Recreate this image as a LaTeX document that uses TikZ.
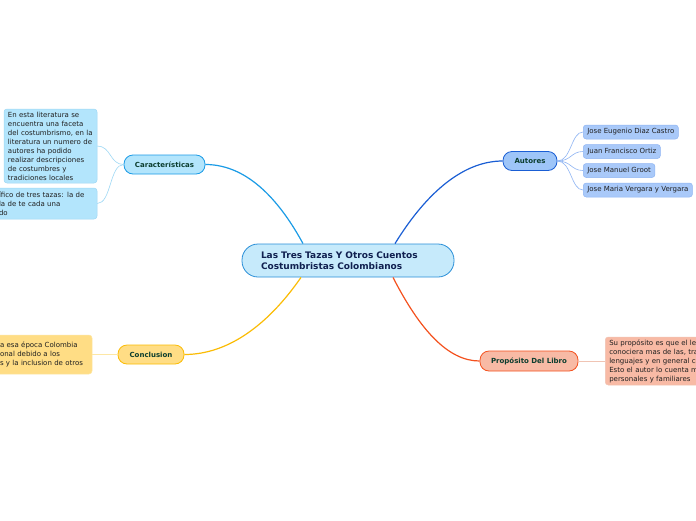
\documentclass[tikz,border=0pt]{standalone}
\usepackage{fontspec}
\setmainfont{DejaVu Sans}
\usepackage{xcolor}
\usetikzlibrary{calc}

\definecolor{titlefill}{HTML}{C6EAFB}
\definecolor{titleline}{HTML}{2A8FD8}
\definecolor{titletext}{HTML}{102050}
\definecolor{labeltext}{HTML}{0B3D2E}
\definecolor{leaftext}{HTML}{202020}
\definecolor{carafill}{HTML}{B3E5FC}
\definecolor{caraline}{HTML}{1A9BE6}
\definecolor{caratwig}{HTML}{9ED8F5}
\definecolor{autfill}{HTML}{9EC5F8}
\definecolor{autline}{HTML}{1A5ED4}
\definecolor{autleaf}{HTML}{A9C9F9}
\definecolor{auttwig}{HTML}{8FB5F3}
\definecolor{propfill}{HTML}{F8BAA5}
\definecolor{propline}{HTML}{F4511E}
\definecolor{proptwig}{HTML}{F0C4B4}
\definecolor{concfill}{HTML}{FFDD85}
\definecolor{concline}{HTML}{FBBC05}
\definecolor{conctwig}{HTML}{FDE7A5}

\begin{document}
\begin{tikzpicture}[x=1pt, y=-1pt,
    topic/.style={draw=titleline, fill=titlefill, line width=0.8pt, rounded corners=16pt,
      minimum width=212pt, minimum height=33pt, inner xsep=19pt, text width=174pt, align=left,
      font=\fontsize{9}{11}\selectfont\bfseries, text=titletext},
    branch/.style={rounded corners=9pt, minimum height=19pt, inner sep=0pt, line width=0.8pt,
      font=\fontsize{7}{9}\selectfont\bfseries, text=labeltext},
    leaf/.style={rounded corners=3pt, line width=0.5pt, inner xsep=4pt, inner ysep=1.5pt,
      font=\fontsize{7}{9}\selectfont, text=leaftext, align=left},
    link/.style={line width=1.2pt},
    twig/.style={line width=0.6pt}]
    \useasboundingbox (0,0) rectangle (696,520);
    \fill[white] (0,0) rectangle (696,520);
    \clip (0,0) rectangle (696,520);

    % Central topic
    \node[topic] (title) at (348,260.5) {Las Tres Tazas Y Otros Cuentos\\Costumbristas Colombianos};

    % Caracteristicas
    \node[branch, draw=caraline, fill=carafill, minimum width=81pt] (cara) at (164.5,164.5) {Características};
    \node[leaf, draw=caratwig, fill=carafill, text width=85pt, minimum height=74pt] (caraA) at (50.5,146)
      {En esta literatura se\\encuentra una faceta\\del costumbrismo, en la\\literatura un numero de\\autores ha podido\\realizar descripciones\\de costumbres y\\tradiciones locales};
    \node[leaf, draw=caratwig, fill=carafill, text width=94pt, minimum height=31pt] (caraB) at (46,203.5)
      {ífico de tres tazas: la de\\la de te cada una\\do};
    \draw[link, caraline] ($(title.north)+(-45,0)$) .. controls (282,205) and (250,164.5) .. (cara.east);
    \draw[twig, caratwig] (cara.west) .. controls +(-14,0) and +(14,0) .. (caraA.east);
    \draw[twig, caratwig] (cara.west) .. controls +(-14,0) and +(14,0) .. (caraB.east);

    % Autores
    \node[branch, draw=autline, fill=autfill, minimum width=54pt] (aut) at (530,161) {Autores};
    \node[leaf, draw=auttwig, fill=autleaf, anchor=west, minimum height=14pt, inner ysep=0pt] (autA) at (583,132) {Jose Eugenio Diaz Castro};
    \node[leaf, draw=auttwig, fill=autleaf, anchor=west, minimum height=14pt, inner ysep=0pt] (autB) at (583,151.5) {Juan Francisco Ortiz};
    \node[leaf, draw=auttwig, fill=autleaf, anchor=west, minimum height=14pt, inner ysep=0pt] (autC) at (583,170.5) {Jose Manuel Groot};
    \node[leaf, draw=auttwig, fill=autleaf, anchor=west, minimum height=14pt, inner ysep=0pt] (autD) at (583,190) {Jose Maria Vergara y Vergara};
    \draw[link, autline] ($(title.north)+(47,0)$) .. controls (428,190) and (465,161) .. (aut.west);
    \foreach \leafname in {autA,autB,autC,autD}
      \draw[twig, auttwig] (aut.east) .. controls +(14,0) and +(-12,0) .. (\leafname.west);

    % Proposito del libro
    \node[branch, draw=propline, fill=propfill, minimum width=98pt, minimum height=20pt] (prop) at (529,361) {Propósito Del Libro};
    \node[leaf, draw=proptwig, fill=propfill, anchor=west, text width=140pt, minimum height=48pt] (propA) at (605,361)
      {Su propósito es que el lector\\conociera mas de las, tradiciones,\\lenguajes y en general costumbres\\Esto el autor lo cuenta mediante\\personales y familiares};
    \draw[link, propline] ($(title.south)+(45,0)$) .. controls (420,330) and (448,361) .. (prop.west);
    \draw[twig, proptwig] (prop.east) -- (propA.west);

    % Conclusion
    \node[branch, draw=concline, fill=concfill, minimum width=66pt] (conc) at (151,354.5) {Conclusion};
    \node[leaf, draw=conctwig, fill=concfill, text width=88pt, minimum height=39pt] (concA) at (44,354.5)
      {a esa época Colombia\\onal debido a los\\s y la inclusion de otros};
    \draw[link, concline] ($(title.south)+(-47,0)$) .. controls (268,325) and (228,354.5) .. (conc.east);
    \draw[twig, conctwig] (conc.west) -- (concA.east);
\end{tikzpicture}
\end{document}
